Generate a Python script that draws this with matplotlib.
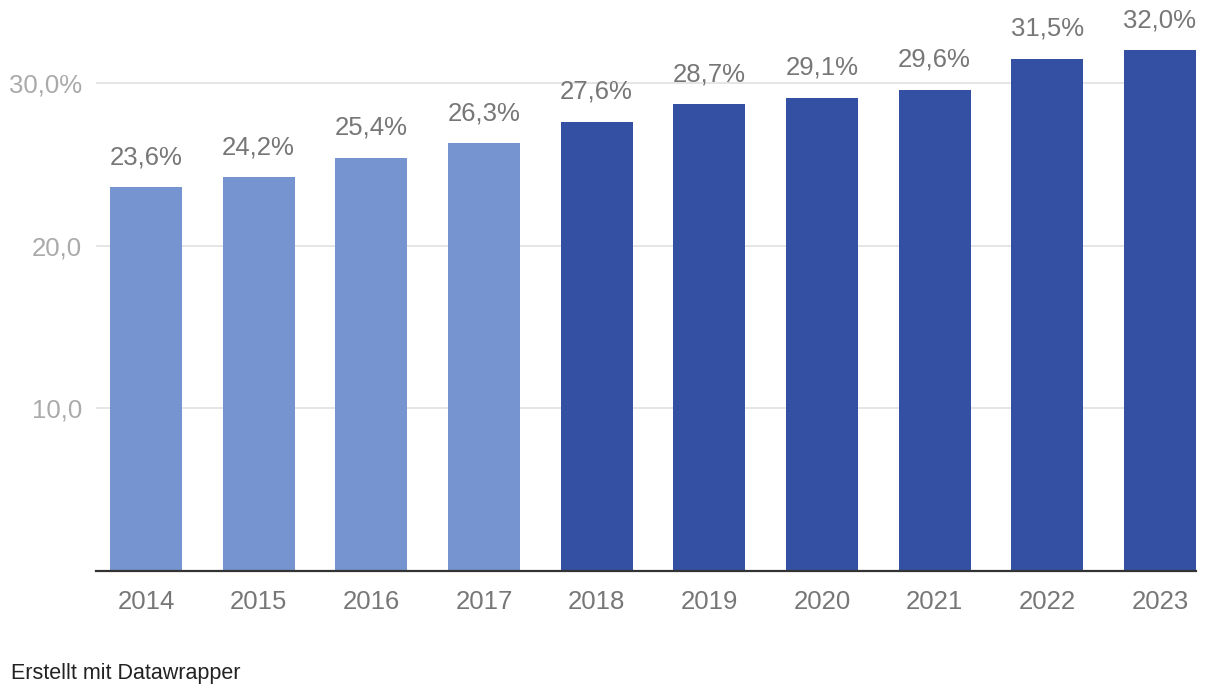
import matplotlib
matplotlib.use("Agg")
import matplotlib.pyplot as plt

years = ["2014", "2015", "2016", "2017", "2018", "2019", "2020", "2021", "2022", "2023"]
values = [23.6, 24.2, 25.4, 26.3, 27.6, 28.7, 29.1, 29.6, 31.5, 32.0]
bar_colors = ["#7694CF"] * 4 + ["#3350A3"] * 6
yticks = [10, 20, 30]
ytick_labels = ["10,0", "20,0", "30,0%"]

plt.rcParams['font.family'] = ['Liberation Sans', 'DejaVu Sans']

W, H = 1220, 694
fig = plt.figure(figsize=(W / 100, H / 100), dpi=100)
left, right, base = 96, 1196, 571
px_per_unit = (571 - 83) / 30.0
ymax = 35
ax = fig.add_axes([left / W, 1 - base / H, (right - left) / W, ymax * px_per_unit / H])

x = list(range(len(years)))
ax.bar(x, values, width=0.64, color=bar_colors, zorder=3)
for xi, v in zip(x, values):
    ax.annotate(f"{v:.1f}%".replace(".", ","), (xi, v), xytext=(0, 13), textcoords="offset points",
                ha="center", va="bottom", fontsize=18.5, color="#777777", zorder=4)

ax.set_xlim(-0.444, 9.32)
ax.set_ylim(0, ymax)
ax.set_yticks(yticks)
ax.set_yticklabels(ytick_labels)
ax.set_xticks(x)
ax.set_xticklabels(years)
ax.tick_params(axis="y", length=0, pad=10, labelsize=18.5, labelcolor="#AAAAAA")
ax.tick_params(axis="x", length=0, pad=13.5, labelsize=18.5, labelcolor="#777777")
ax.grid(axis="y", color="#E3E3E3", linewidth=1.3, zorder=0)
for s in ["top", "right", "left"]:
    ax.spines[s].set_visible(False)
ax.spines["bottom"].set_color("#333333")
ax.spines["bottom"].set_linewidth(1.6)
ax.spines["bottom"].set_zorder(5)

fig.text(11 / W, 1 - 673 / H, "Erstellt mit Datawrapper", fontsize=15.5, color="#222222",
         ha="left", va="center")

fig.savefig("out.png", dpi=100)
